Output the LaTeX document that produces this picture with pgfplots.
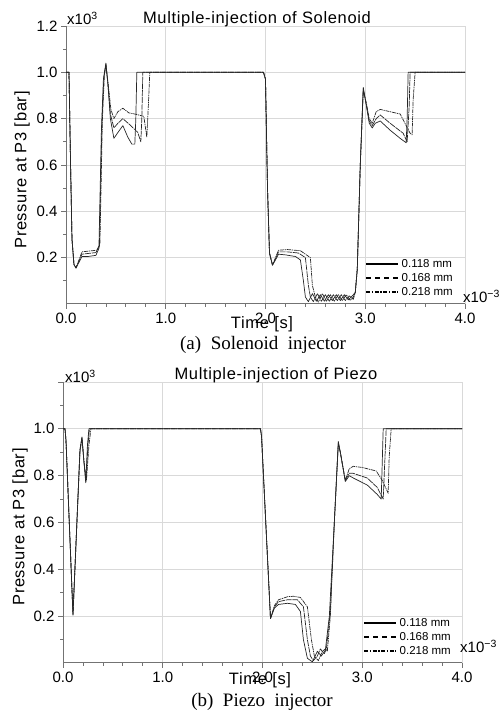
\documentclass[border=0pt]{standalone}
\usepackage{pgfplots}
\pgfplotsset{compat=1.18}
\usepackage{fontspec}
\setmainfont{Liberation Sans}
\newfontfamily\wsans[LetterSpace=4]{Liberation Sans}
\newfontfamily\capfont{Liberation Serif}
\newcommand\ticklab{\fontsize{15}{17}\selectfont}
\newcommand\labfont{\wsans\fontsize{16.5}{19}\selectfont}
\newcommand\legfont{\fontsize{11.5}{13}\selectfont}
\newcommand\capsize{\capfont\fontsize{19}{22}\selectfont}
\pgfplotsset{
  myaxis/.style={
    scale only axis, width=399pt,
    xmin=0, xmax=4, ymin=0, ymax=1.2,
    axis lines=left, axis line style={-, draw=black!55, line width=1pt},
    xtick={0,1,2,3,4}, xticklabels={0.0,1.0,2.0,3.0,4.0},
    ytick={0.2,0.4,0.6,0.8,1.0,1.2},
    minor xtick={0.2,0.4,0.6,0.8,1.2,1.4,1.6,1.8,2.2,2.4,2.6,2.8,3.2,3.4,3.6,3.8},
    minor ytick={0.1,0.3,0.5,0.7,0.9,1.1},
    tick align=outside, major tick length=5pt, minor tick length=3pt,
    tick style={draw=black!55, line width=0.8pt},
    grid=major, major grid style={draw=black!15, line width=0.8pt},
    tick label style={font=\ticklab},
    legend cell align=left,
    legend image code/.code={\draw[#1] (0pt,0pt) -- (32pt,0pt);},
    legend style={draw=none, fill=none, font=\legfont, inner sep=0pt,
      row sep=0.5pt},
  },
  cA/.style={black!85, line width=0.7pt, line join=round},
  cB/.style={black!85, line width=0.7pt, line join=round, dash pattern=on 6pt off 0.8pt},
  cC/.style={black!85, line width=0.7pt, line join=round, dash pattern=on 4pt off 0.8pt on 1.2pt off 0.8pt},
  lA/.style={black, line width=2.4pt},
  lB/.style={black, line width=2.4pt, dash pattern=on 5pt off 4pt},
  lC/.style={black, line width=2.4pt, dash pattern=on 4pt off 1.5pt on 1.5pt off 1.5pt},
}
\begin{document}
\begin{tikzpicture}[x=1pt,y=1pt]
\useasboundingbox (0,0) rectangle (501,712);
% ---------------- Solenoid ----------------
\begin{axis}[myaxis, height=278pt, at={(66pt,408pt)}, anchor=south west,
  yticklabels={0.2,0.4,0.6,0.8,1.0,1.2},
  legend style={at={(1,0)}, anchor=south east, xshift=-10pt, yshift=5pt}]
\addplot[cA, forget plot] coordinates {(0,1) (0.03,1) (0.045,0.62) (0.06,0.28) (0.08,0.17) (0.10,0.155) (0.13,0.18) (0.16,0.205) (0.22,0.205) (0.30,0.21) (0.33,0.24) (0.355,0.75) (0.375,0.97) (0.40,1.04) (0.42,0.95) (0.445,0.80) (0.48,0.715) (0.52,0.74) (0.57,0.77) (0.62,0.72) (0.66,0.69) (0.69,0.69) (0.70,0.80) (0.71,1.0) (1.98,1.0) (2.0,0.97) (2.02,0.5) (2.04,0.22) (2.07,0.168) (2.10,0.19) (2.13,0.215) (2.2,0.212) (2.3,0.205) (2.35,0.19) (2.38,0.1) (2.40,0.03) (2.43,0.01) (2.47,0.045) (2.51,0.012) (2.55,0.04) (2.59,0.012) (2.63,0.04) (2.67,0.015) (2.71,0.04) (2.75,0.015) (2.79,0.04) (2.83,0.018) (2.87,0.035) (2.90,0.05) (2.92,0.15) (2.95,0.6) (2.98,0.935) (3.01,0.86) (3.04,0.78) (3.07,0.76) (3.10,0.78) (3.15,0.79) (3.25,0.75) (3.35,0.715) (3.41,0.696) (3.42,0.8) (3.43,1.0) (4,1.0)};
\addplot[cB, forget plot] coordinates {(0,1) (0.03,1) (0.045,0.62) (0.06,0.28) (0.08,0.17) (0.10,0.155) (0.13,0.185) (0.16,0.215) (0.22,0.218) (0.30,0.222) (0.335,0.25) (0.36,0.78) (0.38,0.98) (0.40,1.035) (0.42,0.95) (0.445,0.82) (0.48,0.76) (0.52,0.78) (0.57,0.80) (0.65,0.77) (0.72,0.74) (0.75,0.70) (0.76,0.80) (0.77,1.0) (1.98,1.0) (2.0,0.97) (2.02,0.5) (2.04,0.22) (2.07,0.168) (2.10,0.195) (2.13,0.225) (2.22,0.225) (2.33,0.22) (2.40,0.2) (2.43,0.08) (2.45,0.03) (2.48,0.01) (2.52,0.045) (2.56,0.012) (2.60,0.04) (2.64,0.012) (2.68,0.04) (2.72,0.015) (2.76,0.04) (2.80,0.015) (2.84,0.035) (2.88,0.02) (2.90,0.05) (2.92,0.15) (2.95,0.6) (2.98,0.93) (3.01,0.86) (3.04,0.79) (3.07,0.77) (3.11,0.80) (3.15,0.816) (3.25,0.78) (3.38,0.737) (3.42,0.70) (3.44,0.85) (3.45,1.0) (4,1.0)};
\addplot[cC, forget plot] coordinates {(0,1) (0.03,1) (0.045,0.62) (0.06,0.28) (0.08,0.17) (0.10,0.158) (0.13,0.19) (0.16,0.225) (0.22,0.228) (0.31,0.232) (0.34,0.26) (0.365,0.80) (0.385,0.99) (0.40,1.03) (0.42,0.96) (0.45,0.84) (0.48,0.80) (0.52,0.83) (0.57,0.845) (0.63,0.825) (0.69,0.82) (0.78,0.81) (0.81,0.72) (0.825,0.85) (0.84,1.0) (1.98,1.0) (2.0,0.97) (2.02,0.5) (2.04,0.22) (2.07,0.168) (2.10,0.20) (2.13,0.232) (2.22,0.235) (2.35,0.23) (2.45,0.2) (2.47,0.08) (2.50,0.03) (2.53,0.008) (2.57,0.045) (2.61,0.012) (2.65,0.04) (2.69,0.012) (2.73,0.04) (2.77,0.015) (2.81,0.04) (2.85,0.015) (2.88,0.03) (2.90,0.05) (2.92,0.15) (2.95,0.6) (2.98,0.92) (3.01,0.87) (3.04,0.80) (3.07,0.78) (3.11,0.83) (3.15,0.84) (3.25,0.83) (3.35,0.82) (3.45,0.737) (3.47,0.73) (3.48,0.88) (3.50,1.0) (4,1.0)};
\addlegendimage{lA}\addlegendentry{0.118 mm}
\addlegendimage{lB}\addlegendentry{0.168 mm}
\addlegendimage{lC}\addlegendentry{0.218 mm}
\end{axis}
% ---------------- Piezo ----------------
\begin{axis}[myaxis, height=281pt, at={(63pt,49pt)}, anchor=south west,
  yticklabels={0.2,0.4,0.6,0.8,1.0,{}},
  legend style={at={(1,0)}, anchor=south east, xshift=-9pt, yshift=5pt}]
\addplot[cA, forget plot] coordinates {(0,1) (0.02,1) (0.03,0.95) (0.10,0.205) (0.17,0.91) (0.19,0.965) (0.21,0.86) (0.228,0.77) (0.245,0.93) (0.26,1.0) (1.98,1.0) (1.99,0.97) (2.08,0.19) (2.12,0.235) (2.16,0.25) (2.25,0.255) (2.33,0.25) (2.38,0.22) (2.41,0.10) (2.45,0.02) (2.50,0.005) (2.55,0.05) (2.59,0.03) (2.63,0.055) (2.67,0.2) (2.72,0.6) (2.76,0.946) (2.78,0.90) (2.83,0.775) (2.87,0.80) (2.91,0.79) (3.05,0.76) (3.15,0.72) (3.19,0.70) (3.20,0.85) (3.21,1.0) (4,1)};
\addplot[cB, forget plot] coordinates {(0,1) (0.02,1) (0.03,0.95) (0.10,0.205) (0.17,0.91) (0.19,0.962) (0.21,0.86) (0.23,0.775) (0.25,0.93) (0.265,1.0) (1.98,1.0) (1.99,0.97) (2.08,0.19) (2.12,0.24) (2.16,0.262) (2.25,0.27) (2.35,0.27) (2.41,0.24) (2.45,0.10) (2.48,0.03) (2.51,0.01) (2.55,0.03) (2.58,0.06) (2.62,0.04) (2.64,0.06) (2.68,0.22) (2.72,0.6) (2.76,0.94) (2.78,0.90) (2.83,0.78) (2.87,0.81) (2.91,0.81) (3.05,0.79) (3.15,0.75) (3.21,0.70) (3.225,0.85) (3.24,1.0) (4,1)};
\addplot[cC, forget plot] coordinates {(0,1) (0.02,1) (0.03,0.95) (0.10,0.21) (0.17,0.90) (0.19,0.96) (0.21,0.86) (0.235,0.78) (0.26,0.93) (0.28,1.0) (1.98,1.0) (1.99,0.97) (2.08,0.19) (2.12,0.245) (2.16,0.27) (2.25,0.283) (2.31,0.285) (2.38,0.28) (2.45,0.24) (2.49,0.10) (2.52,0.03) (2.56,0.01) (2.60,0.05) (2.63,0.06) (2.65,0.05) (2.68,0.2) (2.72,0.6) (2.76,0.935) (2.78,0.90) (2.83,0.78) (2.87,0.83) (2.91,0.84) (3.0,0.835) (3.14,0.82) (3.20,0.78) (3.26,0.725) (3.27,0.88) (3.29,1.0) (4,1)};
\addlegendimage{lA}\addlegendentry{0.118 mm}
\addlegendimage{lB}\addlegendentry{0.168 mm}
\addlegendimage{lC}\addlegendentry{0.218 mm}
\end{axis}
% ---------------- texts ----------------
\node[font=\labfont] at (257,693) {Multiple-injection of Solenoid};
\node[font=\labfont] at (276,337) {Multiple-injection of Piezo};
\node[font=\ticklab, anchor=base west, inner sep=0pt] at (67,687) {x10\textsuperscript{3}};
\node[font=\ticklab, anchor=base west, inner sep=0pt] at (65,329) {x10\textsuperscript{3}};
\node[font=\ticklab, anchor=base west, inner sep=0pt] at (463,409) {x10\textsuperscript{−3}};
\node[font=\ticklab, anchor=base west, inner sep=0pt] at (460,59) {x10\textsuperscript{−3}};
\node[font=\labfont, rotate=90] at (22,542) {Pressure at P3 [bar]};
\node[font=\labfont, rotate=90] at (20,185) {Pressure at P3 [bar]};
\node[font=\labfont] at (262,388) {Time [s]};
\node[font=\labfont] at (260,32) {Time [s]};
\node[font=\capsize] at (263,367) {(a)\ \ Solenoid\ \ injector};
\node[font=\capsize] at (262,10) {(b)\ \ Piezo\ \ injector};
\end{tikzpicture}
\end{document}
